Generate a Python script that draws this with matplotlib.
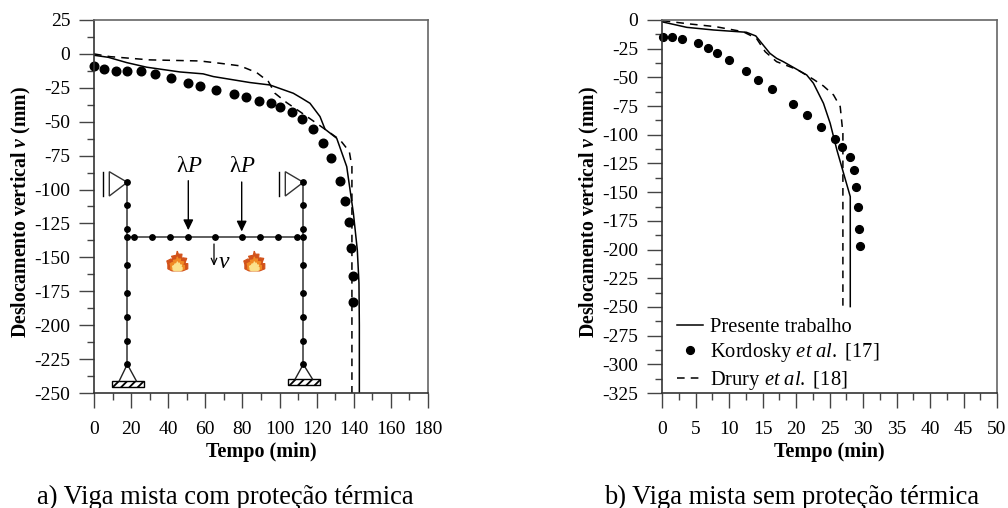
import numpy as np
import matplotlib
matplotlib.use("Agg")
import matplotlib.pyplot as plt
from matplotlib.patches import Polygon, Rectangle, PathPatch
from matplotlib.path import Path

plt.rcParams['font.family'] = ['Liberation Serif', 'DejaVu Serif']
plt.rcParams['mathtext.fontset'] = 'custom'
plt.rcParams['mathtext.rm'] = 'Liberation Serif'
plt.rcParams['mathtext.it'] = 'Liberation Serif:italic'
plt.rcParams['mathtext.bf'] = 'Liberation Serif:bold'
plt.rcParams['mathtext.bfit'] = 'Liberation Serif:italic:bold'
plt.rcParams['axes.unicode_minus'] = False
plt.rcParams['hatch.linewidth'] = 1.3

# a) com protecao termica
a_solid_t = [0, 7.7, 17.6, 28.4, 46.3, 58.8, 64.3, 84, 94.8, 107.4, 112, 116.4, 121.8, 124.5, 130.8, 136.2, 139.8, 141.9, 142.8, 143, 143]
a_solid_v = [-1, -2.5, -6.4, -9.8, -13.3, -14.7, -16.7, -21.1, -22.9, -29, -32.7, -36.4, -46.2, -55.5, -62.2, -83.1, -117.5, -144.5, -169, -200, -250]
a_dots_t = [0.2, 5.4, 11.9, 17.6, 25.2, 32.7, 41.7, 50.7, 57.3, 65.9, 75.3, 81.8, 88.9, 95.2, 100.4, 106.7, 112.3, 118,
            123.2, 127.9, 132.4, 135.2, 137.6, 138.5, 139.4, 139.8]
a_dots_v = [-8.8, -10.8, -12.8, -12.8, -12.8, -14.7, -17.7, -21.1, -23.8, -26.5, -29.7, -31.9, -34.4, -36.4, -39.1, -43,
            -47.9, -55, -65.6, -76.5, -93.4, -108.4, -123.7, -143.3, -164, -183]
a_dash_t = [0, 8.6, 30, 57, 67.9, 78.7, 87.7, 94, 97.5, 103.8, 111, 120, 132.6, 137.6, 139, 139]
a_dash_v = [0, -2, -4.4, -5.2, -6.9, -8.8, -13.8, -20.4, -29, -35.9, -42.6, -51.2, -63.4, -72, -83.1, -250]

# b) sem protecao termica
b_solid_t = [0.1, 3.7, 7.7, 12.6, 14, 15.1, 16.1, 17.1, 18.1, 21.6, 22.6, 24.1, 25.1, 26.1, 28.1, 28.1]
b_solid_v = [-1.7, -6.4, -8.7, -10.7, -13.9, -21.8, -29, -33.4, -36.3, -47.9, -55.1, -72.6, -90, -113.2, -153.9, -249.7]
b_dots_t = [0.15, 1.45, 3, 5.3, 6.8, 8.2, 10, 12.5, 14.3, 16.4, 19.6, 21.6, 23.7, 25.8, 26.9, 28, 28.7, 29, 29.2, 29.4, 29.5]
b_dots_v = [-14.5, -14.5, -16.2, -19.7, -24.7, -28.7, -34.6, -44.4, -52, -59.8, -72.9, -82.8, -93.2, -103.4, -110.9,
            -119.6, -130.4, -145.2, -162.9, -182.3, -197.1]
b_dash_t = [0.1, 4.2, 8, 12.1, 14.1, 15.4, 17.1, 20.1, 22.6, 24.1, 25.6, 26.6, 27, 27]
b_dash_v = [-0.6, -3.5, -5.8, -10.2, -16, -27.6, -36.3, -43, -51.7, -57.5, -65.3, -75.5, -98.7, -249.7]

legend_labels = ["Presente trabalho", "Kordosky $\\mathit{et\\ al.}$ [17]", "Drury $\\mathit{et\\ al.}$ [18]"]

# esquema do portico (em pixels da figura)
col_x = [127.3, 303.3]
col_nodes_y = [182.3, 205.3, 228.7, 236.7, 265, 293.3, 317, 340.7, 364.3]
beam_y = 236.7
beam_nodes_x = [134, 152, 170.3, 188.3, 215.3, 242.3, 260.3, 278.3, 296.7]
load_x = [188.3, 241.7]
flame_x = [177.3, 254.3]

W, H = 1008, 508
fig = plt.figure(figsize=(W / 100, H / 100), dpi=100)


def make_ax(x0, x1, y0, y1):
    return fig.add_axes([x0 / W, 1 - y1 / H, (x1 - x0) / W, (y1 - y0) / H])


def style(ax, xlim, ylim, xmaj, xmin, ymaj, ymin, ylabel_px):
    ax.set_xlim(*xlim)
    ax.set_ylim(*ylim)
    ax.set_xticks(xmaj)
    ax.set_xticks(xmin, minor=True)
    ax.set_yticks(ymaj)
    ax.set_yticks(ymin, minor=True)
    ax.tick_params(which='major', length=10.5, width=1, color='#444444', labelsize=14)
    ax.tick_params(axis='x', which='major', pad=9.5)
    ax.tick_params(axis='y', which='major', pad=6.5)
    ax.tick_params(which='minor', length=5, width=1, color='#444444')
    for s in ax.spines.values():
        s.set_color('#666666')
        s.set_linewidth(1.2)
    ax.spines['left'].set_color('#333333')
    ax.spines['bottom'].set_color('#333333')
    ax.set_xlabel("Tempo (min)", fontsize=14.5, fontweight='bold')
    ax.xaxis.set_label_coords(0.5, -49 / 373, transform=ax.transAxes)
    ax.set_ylabel("Deslocamento vertical $\\mathbfit{v}$ (mm)", fontsize=14.2, fontweight='bold')
    ax.yaxis.set_label_coords(ylabel_px, 181 / 373, transform=ax.transAxes)


ax1 = make_ax(94, 428, 20, 393)
ax1.plot(a_solid_t, a_solid_v, color='black', lw=1.1, label=legend_labels[0])
ax1.plot(a_dash_t, a_dash_v, color='black', lw=1.1, dashes=(5, 4))
ax1.plot(a_dots_t, a_dots_v, 'o', color='black', ms=6.2, clip_on=False)
style(ax1, (0, 180), (-250, 25), np.arange(0, 181, 20), np.arange(0, 181, 10),
      np.arange(-250, 26, 25), np.arange(-250, 26, 12.5), -61 / 334)

ax2 = make_ax(662, 997, 20, 393)
ax2.plot(b_solid_t, b_solid_v, color='black', lw=1.1, label=legend_labels[0])
ax2.plot(b_dots_t, b_dots_v, 'o', color='black', ms=6.2, clip_on=False, label=legend_labels[1])
ax2.plot(b_dash_t, b_dash_v, color='black', lw=1.1, dashes=(5, 4), label=legend_labels[2])
style(ax2, (0, 50), (-325, 0), np.arange(0, 51, 5), np.arange(0, 51, 2.5),
      np.arange(-325, 1, 25), np.arange(-325, 1, 12.5), -61 / 335)
handles, labels = ax2.get_legend_handles_labels()
handles[1].set_markersize(5.6)
ax2.legend(handles, labels, loc='lower left', bbox_to_anchor=(0.015, -0.0254), frameon=False, fontsize=14.8, handlelength=1.27,
           labelspacing=0.23, handletextpad=0.3, borderpad=0.3, borderaxespad=0.2)

fig.text(225.5 / W, 1 - 497 / H, "a) Viga mista com proteção térmica", ha='center', va='center', fontsize=19.1)
fig.text(792 / W, 1 - 497 / H, "b) Viga mista sem proteção térmica", ha='center', va='center', fontsize=19.1)

# camada do esquema
sk = fig.add_axes([0, 0, 1, 1], facecolor='none')
sk.set_xlim(0, W)
sk.set_ylim(H, 0)
sk.axis('off')

for x in col_x:
    sk.plot([x, x], [col_nodes_y[0], col_nodes_y[-1]], color='#333333', lw=1.1, zorder=2)
    sk.plot([x] * len(col_nodes_y), col_nodes_y, 'o', color='black', ms=3.9, zorder=3)
    # rolete no topo
    sk.add_patch(Polygon([[x - 18, 171.7], [x - 18, 196], [x, col_nodes_y[0]]], closed=True, fc='white', ec='#333333', lw=1))
    sk.plot([x - 24.5, x - 24.5], [171.7, 196], color='black', lw=1)
sk.plot(col_x, [beam_y, beam_y], color='#333333', lw=1.1, zorder=2)
sk.plot(beam_nodes_x, [beam_y] * len(beam_nodes_x), 'o', color='black', ms=3.9, zorder=3)

# apoios
for x, y in zip(col_x, [381.3, 379.3]):
    sk.plot([x - 8, x, x + 9], [y - 0.5, col_nodes_y[-1], y - 0.5], color='#222222', lw=1)
    sk.add_patch(Rectangle((x - 15.5, y), 32, 5.4, fc='white', ec='black', lw=1, hatch='////'))

for x, yt in zip(load_x, [180.7, 182]):
    sk.annotate("", xy=(x, yt + 49.5), xytext=(x, yt),
                arrowprops=dict(arrowstyle='-|>,head_width=0.3,head_length=0.62', color='black', lw=1, shrinkA=0, shrinkB=0))
    sk.text(x + 0.5, 167, "λ$\\mathit{P}$", ha='center', va='center', fontsize=16.5)

sk.annotate("", xy=(214, 266), xytext=(214, 244),
            arrowprops=dict(arrowstyle='->,head_width=0.2,head_length=0.45', color='black', lw=0.9, shrinkA=0, shrinkB=0))
sk.text(224, 262, "$\\mathit{v}$", ha='center', va='center', fontsize=17)


def flame(cx, cy, s, color):
    verts = [(0, 1), (-0.1, 0.6), (-0.55, 0.5), (-0.35, 0.1), (-0.6, 0.25), (-1, 0.05), (-0.9, -0.3),
             (-0.9, -0.7), (-0.5, -0.9), (0, -0.9), (0.5, -0.9), (1, -0.7), (1, -0.35), (1, -0.2), (0.8, -0.2),
             (0.75, -0.1), (0.9, 0.3), (0.55, 0.35), (0.4, 0.3), (0.45, 0.7), (0.1, 0.7), (0, 1)]
    codes = [Path.MOVETO] + [Path.LINETO] * (len(verts) - 1)
    pts = [(cx + vx * s, cy - vy * s) for vx, vy in verts]
    sk.add_patch(PathPatch(Path(pts, codes), fc=color, ec=color, lw=0.8, joinstyle='round', zorder=4))


for x in flame_x:
    flame(x, 261.5, 10.5, '#d2521a')
    flame(x, 264, 7.2, '#f08a24')
    flame(x, 266.5, 4.8, '#fbe28c')

fig.savefig("out.png", dpi=100)
